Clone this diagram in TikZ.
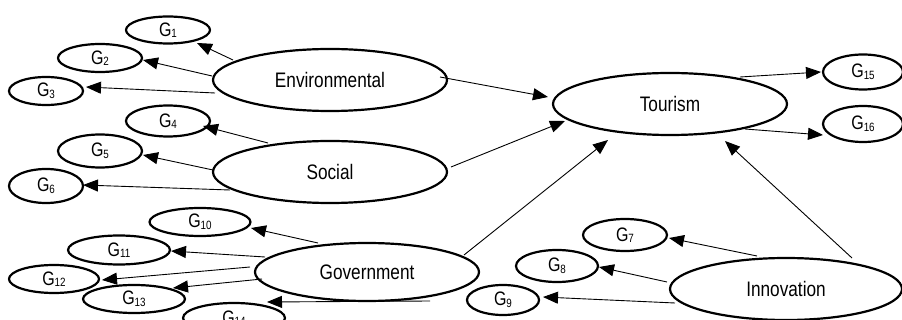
\documentclass[tikz,border=0pt]{standalone}
\usepackage{fontspec}
\setmainfont{Liberation Sans}[FakeStretch=0.82]
\usetikzlibrary{shapes.geometric,arrows.meta,calc}
\newcommand\glab[1]{\raisebox{-2pt}{G{\fontsize{12}{12}\selectfont\raisebox{-1.5pt}{#1}}}}
\tikzset{
  big/.style={ellipse, draw, line width=2.2pt, inner sep=0pt, font=\fontsize{21}{21}\selectfont},
  small/.style={ellipse, draw, line width=2.2pt, inner sep=0pt, font=\fontsize{19.5}{19.5}\selectfont},
  arr/.style={line width=0.9pt, -{Triangle[length=15pt,width=12pt]}}
}
\begin{document}
\begin{tikzpicture}[x=1pt,y=-1pt]
\useasboundingbox (0,0) rectangle (902,320);
\clip (0,0) rectangle (902,320);
% big ellipses
\node[big, minimum width=234pt, minimum height=62pt] (env) at (330,80) {Environmental};
\node[big, minimum width=234pt, minimum height=62pt] (soc) at (330,172) {Social};
\node[big, minimum width=234pt, minimum height=62pt] (tour) at (670,104) {Tourism};
\node[big, minimum width=224pt, minimum height=58pt] (gov) at (367,272) {Government};
\node[big, minimum width=232pt, minimum height=62pt] (inn) at (786,289) {Innovation};
% small ellipses
\node[small, minimum width=84pt, minimum height=27pt] (g1) at (168,30) {\glab{1}};
\node[small, minimum width=84pt, minimum height=28pt] (g2) at (100,58) {\glab{2}};
\node[small, minimum width=74pt, minimum height=28pt] (g3) at (46,91) {\glab{3}};
\node[small, minimum width=84pt, minimum height=31pt] (g4) at (168,121) {\glab{4}};
\node[small, minimum width=84pt, minimum height=33pt] (g5) at (100,151) {\glab{5}};
\node[small, minimum width=74pt, minimum height=34pt] (g6) at (46,186) {\glab{6}};
\node[small, minimum width=84pt, minimum height=32pt] (g7) at (625,235) {\glab{7}};
\node[small, minimum width=82pt, minimum height=32pt] (g8) at (557,266) {\glab{8}};
\node[small, minimum width=72pt, minimum height=30pt] (g9) at (503,300) {\glab{9}};
\node[small, minimum width=101pt, minimum height=28pt] (g10) at (200,222) {\glab{10}};
\node[small, minimum width=102pt, minimum height=29pt] (g11) at (119,250) {\glab{11}};
\node[small, minimum width=90pt, minimum height=28pt] (g12) at (54,279) {\glab{12}};
\node[small, minimum width=102pt, minimum height=28pt] (g13) at (134,299) {\glab{13}};
\node[small, minimum width=102pt, minimum height=30pt] (g14) at (234,318) {\glab{14}};
\node[small, minimum width=80pt, minimum height=35pt] (g15) at (863,72) {\glab{15}};
\node[small, minimum width=80pt, minimum height=36pt] (g16) at (863,124) {\glab{16}};
% connectors: Environmental
\draw[arr] ($(env)+(-97,-20)$) -- ($(g1)+(29,13)$);
\draw[arr] ($(env)+(-118,-4)$) -- ($(g2)+(43,2)$);
\draw[arr] ($(env)+(-115,13)$) -- ($(g3)+(40,-4)$);
\draw[arr] ($(env)+(110,-3)$) -- ($(tour)+(-122,-7)$);
% Social
\draw[arr] ($(soc)+(-62,-29)$) -- ($(g4)+(35,5)$);
\draw[arr] ($(soc)+(-117,-2)$) -- ($(g5)+(43,4)$);
\draw[arr] ($(soc)+(-100,18)$) -- ($(g6)+(37,-1)$);
\draw[arr] ($(soc)+(121,-5)$) -- ($(tour)+(-105,17)$);
% Government
\draw[arr] ($(gov)+(97,-17)$) -- ($(tour)+(-62,36)$);
\draw[arr] ($(gov)+(-49,-29)$) -- ($(g10)+(51,6)$);
\draw[arr] ($(gov)+(-102,-15)$) -- ($(g11)+(52,1)$);
\draw[arr] ($(gov)+(-117,-5)$) -- ($(g12)+(48,1)$);
\draw[arr] ($(gov)+(-105,7)$) -- ($(g13)+(39,-11)$);
\draw[arr] ($(gov)+(63,29)$) -- ($(g14)+(33,-16)$);
% Innovation
\draw[arr] ($(inn)+(66,-31)$) -- ($(tour)+(55,37)$);
\draw[arr] ($(inn)+(-29,-33)$) -- ($(g7)+(44,3)$);
\draw[arr] ($(inn)+(-119,-7)$) -- ($(g8)+(42,1)$);
\draw[arr] ($(inn)+(-111,14)$) -- ($(g9)+(40,-3)$);
% Tourism outputs
\draw[arr] ($(tour)+(70,-27)$) -- ($(g15)+(-42,0)$);
\draw[arr] ($(tour)+(75,25)$) -- ($(g16)+(-40,11)$);
\end{tikzpicture}
\end{document}
